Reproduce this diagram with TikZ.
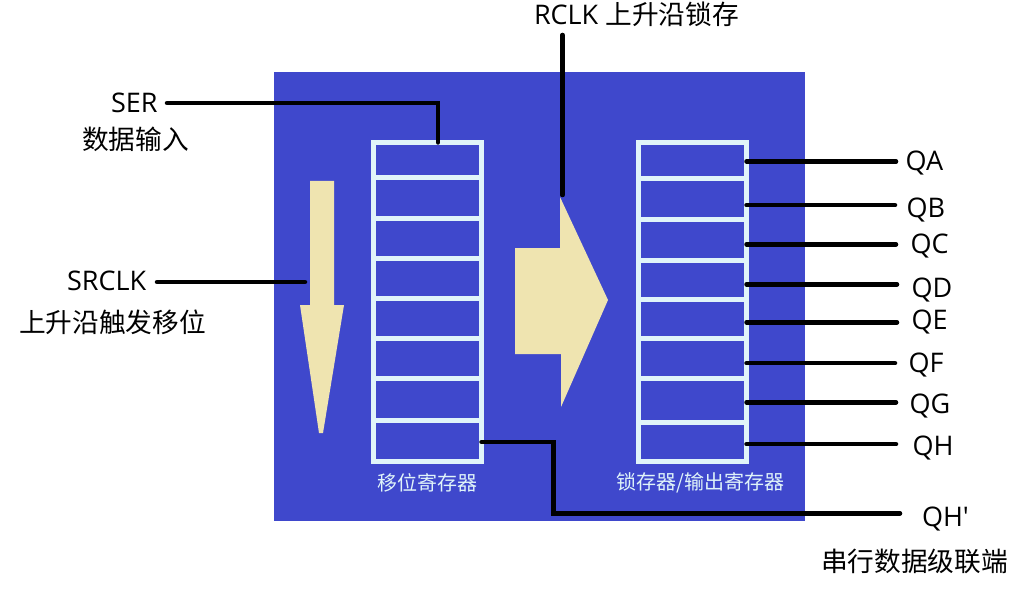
\documentclass[tikz,border=0pt]{standalone}
\usepackage{fontspec}
\setmainfont{Noto Sans CJK SC}
\newfontfamily\latinf{Open Sans}
\definecolor{bgblue}{RGB}{63,72,204}
\definecolor{cream}{RGB}{239,228,176}
\definecolor{cellc}{RGB}{224,244,249}
\tikzset{
  lab/.style={inner sep=0pt, outer sep=0pt, font=\fontsize{27}{30}\selectfont\latinf, text depth=0pt, anchor=base west},
  cjk/.style={inner sep=0pt, outer sep=0pt, font=\fontsize{26.7}{30}\selectfont, anchor=west},
  inlab/.style={inner sep=0pt, outer sep=0pt, font=\fontsize{20}{24}\selectfont, text=cellc, anchor=west},
  wire/.style={line width=4.5pt, line cap=round, draw=black},
  reg/.style={draw=cellc, line width=5pt, inner sep=0pt, outer sep=0pt},
  divl/.style={draw=cellc, line width=5pt},
  creamshape/.style={fill=cream, draw=none}
}
\begin{document}
\begin{tikzpicture}[x=1pt,y=-1pt]
\useasboundingbox (0,0) rectangle (1027,596);
\fill[white] (0,0) rectangle (1027,596);
% blue panel
\fill[bgblue] (274,72) rectangle (805,521);
% registers
\node[reg, minimum width=108pt, minimum height=318.5pt] (Lreg) at (427.5,301.75) {};
\node[reg, minimum width=108pt, minimum height=319pt] (Rreg) at (692.5,302) {};
\foreach \y in {178,218,258,298,338,378,420}
  \draw[divl] (Lreg.west |- 0,\y) -- (Lreg.east |- 0,\y);
\foreach \y in {179,219,260,299,338,378,422}
  \draw[divl] (Rreg.west |- 0,\y) -- (Rreg.east |- 0,\y);
% cream arrows
\fill[creamshape] (310,181) -- (334,181) -- (334,305) -- (344,305) -- (323,433) -- (319,433) -- (300,305) -- (310,305) -- cycle;
\fill[creamshape] (515,248) -- (560,248) -- (560,197) -- (608,300) -- (561,407) -- (561,354) -- (515,354) -- cycle;
% inner labels
\node[inlab] (lregtxt) at (377.5,482.5) {移位寄存器};
\node[inlab] (rregtxt) at (616.5,482.5) {锁存器/输出寄存器};
% outer labels
\node[lab] (ser) at (111,113) {SER};
\node[cjk] (sertxt) at (82,139) {数据输入};
\node[lab] (srclk) at (67,290) {SRCLK};
\node[cjk] (srclktxt) at (19,322) {上升沿触发移位};
\node[lab] (rclk) at (534,25) {RCLK {\fontsize{26.7}{30}\selectfont\rmfamily 上升沿锁存}};
\node[lab] (qhp) at (922,526) {QH'};
\node[cjk] (qhptxt) at (821,561) {串行数据级联端};
\node[lab] (qa) at (905.5,171) {QA};
\node[lab] (qb) at (906.5,217) {QB};
\node[lab] (qc) at (910.5,253) {QC};
\node[lab] (qd) at (911.5,297) {QD};
\node[lab] (qe) at (911.5,329) {QE};
\node[lab] (qf) at (908.5,372) {QF};
\node[lab] (qg) at (909.5,413) {QG};
\node[lab] (qh) at (912.5,455) {QH};
% wire end coordinates
\coordinate (serEnd) at (167,103);
\coordinate (srclkEnd) at (157,282);
\coordinate (srclkTo) at (305,282);
\coordinate (rclkEnd) at (562.5,35);
\coordinate (rclkTo) at (562.5,195);
\coordinate (qhpEnd) at (900,513.3);
\coordinate (qaE) at (896,161.5);
\coordinate (qbE) at (895,205.2);
\coordinate (qcE) at (896,244.3);
\coordinate (qdE) at (897,284.3);
\coordinate (qeE) at (897,322.3);
\coordinate (qfE) at (895,363.2);
\coordinate (qgE) at (896,402.3);
\coordinate (qhE) at (896,444.2);
% wires
\draw[wire] (serEnd) -| (Lreg.north -| 438,0);
\draw[wire] (srclkEnd) -- (srclkTo);
\draw[wire] (rclkEnd) -- (rclkTo);
\draw[wire] (Lreg.east |- 0,442) -| (553.5,513.3) -- (qhpEnd);
\foreach \q in {qa,qb,qc,qd,qe,qf,qg,qh}
  \draw[wire] (Rreg.east |- \q E) -- (\q E);
\end{tikzpicture}
\end{document}
